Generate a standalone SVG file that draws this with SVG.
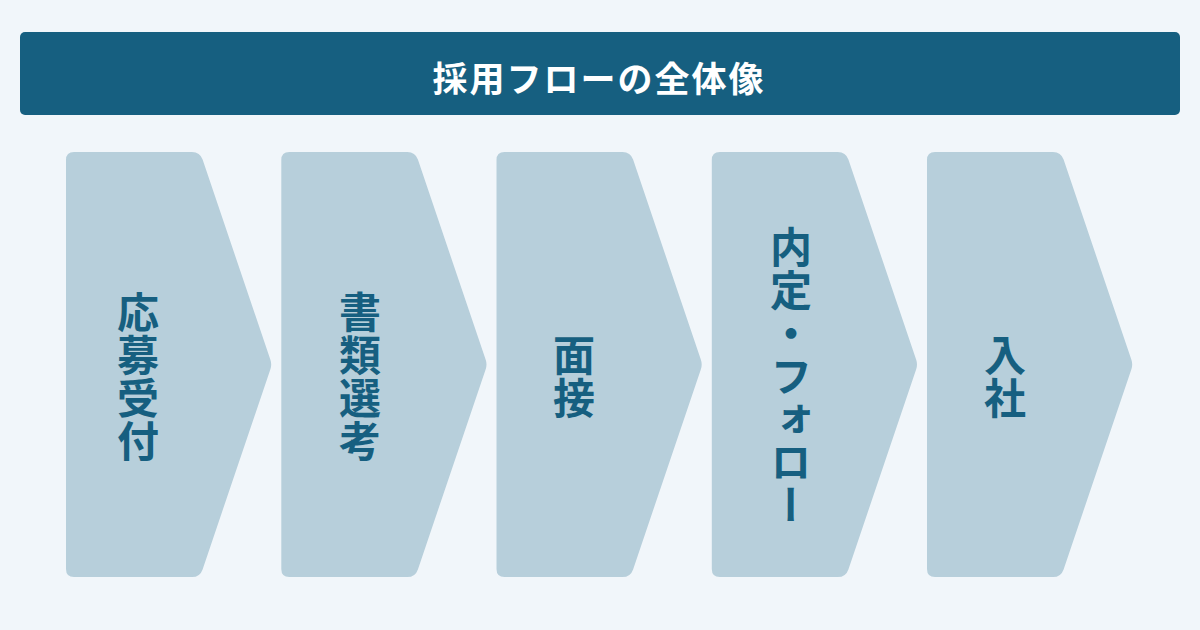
<svg xmlns="http://www.w3.org/2000/svg" width="1200" height="630" viewBox="0 0 1200 630">
<style>
.bg{fill:#f1f6fa}
.hdr{fill:#165f80}
.hdrtxt{fill:#ffffff;font-family:"Noto Sans CJK JP","Noto Sans CJK SC",sans-serif;font-weight:700;font-size:35px;letter-spacing:2px}
.chev{fill:#b7cfdb}
.lbl{fill:#165f80;font-family:"Noto Sans CJK JP","Noto Sans CJK SC",sans-serif;font-weight:700;font-size:42px;letter-spacing:1px;writing-mode:vertical-rl}
</style>
<defs>
<path id="chev" d="M8,152 H126 Q134,152 136.6,159.6 L204.4,359.8 Q206,364.5 204.4,369.2 L136.6,569.4 Q134,577 126,577 H8 Q0,577 0,569 V160 Q0,152 8,152 Z"/>
</defs>
<rect class="bg" x="0" y="0" width="1200" height="630"/>
<g id="header">
<rect class="hdr" x="20" y="32" width="1160" height="83" rx="5"/>
<text class="hdrtxt" x="599" y="76" text-anchor="middle" dominant-baseline="central">採用フローの全体像</text>
</g>
<g id="connectors"></g>
<g id="step1">
<use href="#chev" class="chev" transform="translate(66,0)"/>
<text class="lbl" x="138" y="377" text-anchor="middle">応募受付</text>
</g>
<g id="step2">
<use href="#chev" class="chev" transform="translate(281.3,0)"/>
<text class="lbl" x="360" y="377" text-anchor="middle">書類選考</text>
</g>
<g id="step3">
<use href="#chev" class="chev" transform="translate(496.5,0)"/>
<text class="lbl" x="574" y="377" text-anchor="middle">面接</text>
</g>
<g id="step4">
<use href="#chev" class="chev" transform="translate(711.8,0)"/>
<text class="lbl" x="791" y="377" text-anchor="middle">内定・フォロー</text>
</g>
<g id="step5">
<use href="#chev" class="chev" transform="translate(927,0)"/>
<text class="lbl" x="1005" y="377" text-anchor="middle">入社</text>
</g>
</svg>
